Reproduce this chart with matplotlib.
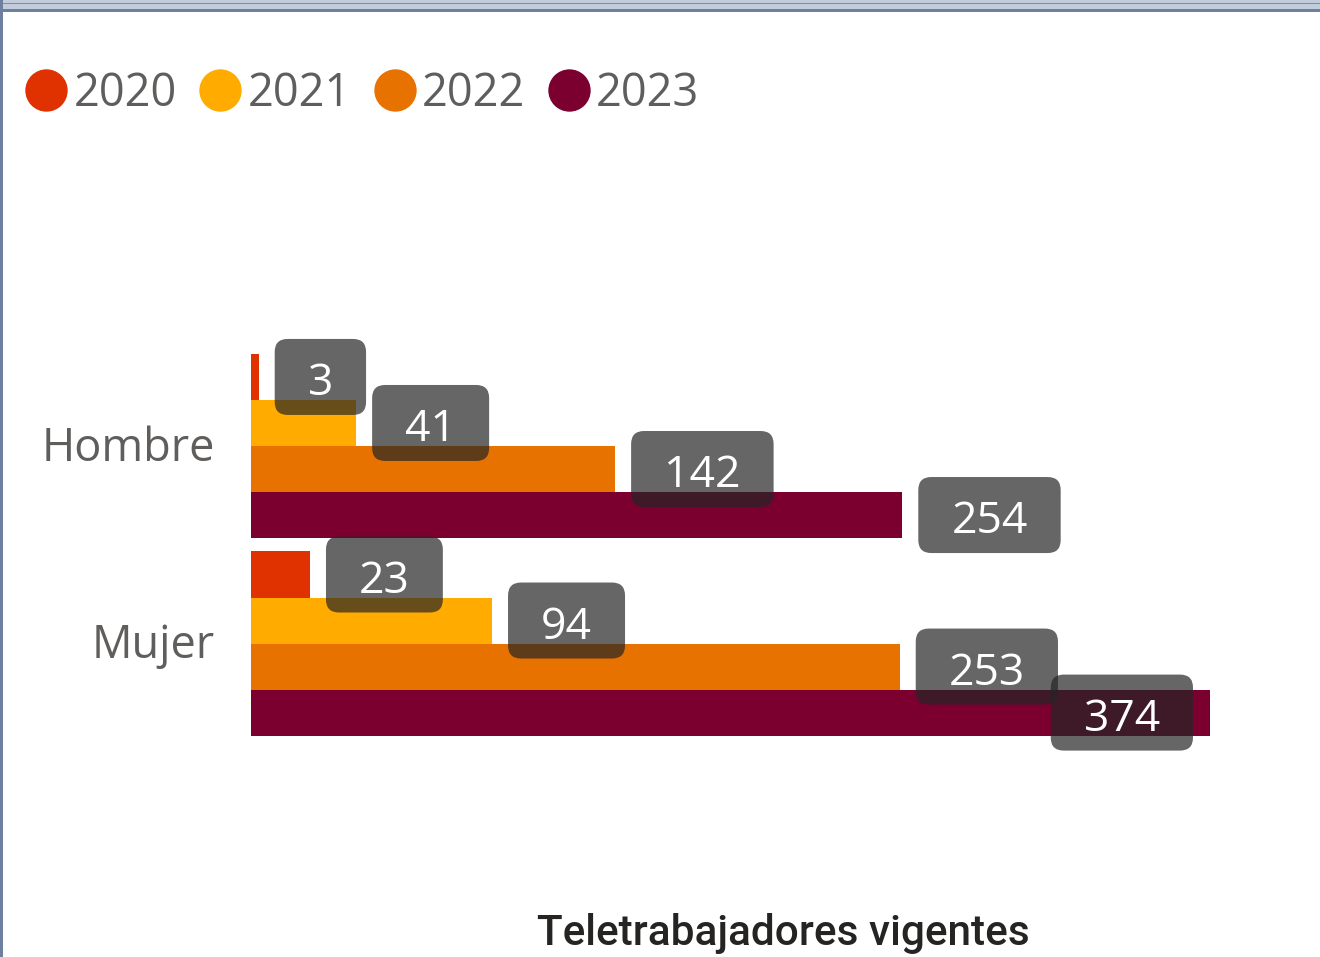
import matplotlib.pyplot as plt
from matplotlib.lines import Line2D
from matplotlib.patches import Rectangle, FancyBboxPatch
from matplotlib.transforms import IdentityTransform

# data
categories = ["Hombre", "Mujer"]
years = ["2020", "2021", "2022", "2023"]
values = {
    "2020": [3, 23],
    "2021": [41, 94],
    "2022": [142, 253],
    "2023": [254, 374],
}
colors = ["#E03100", "#FFAB00", "#E87200", "#7B0030"]
title = "Teletrabajadores vigentes"

W, H = 1320, 957
fig = plt.figure(figsize=(W / 100, H / 100), dpi=100)
fig.patch.set_facecolor("white")

# axes placed in pixel terms: x 251..1210 for 0..374
top_px, bot_px = 300, 800
ax = fig.add_axes([251 / W, 1 - bot_px / H, 959 / W, (bot_px - top_px) / H])
ax.set_xlim(0, 374)
ax.set_ylim(1.792, -0.739)
ax.axis("off")

bar_h = 0.233
padx = 33
vmax = max(max(v) for v in values.values())
label_texts = []
for i, yr in enumerate(years):
    ys = [k + (i - 1.5) * bar_h for k in range(len(categories))]
    ax.barh(ys, values[yr], height=bar_h, color=colors[i], zorder=2)
    for y, v in zip(ys, values[yr]):
        if v == vmax:
            t = ax.annotate(str(v), xy=(v, y), xytext=(-(17 + padx) * 0.72, -5),
                            textcoords="offset points", ha="right", va="center",
                            fontsize=32, color="white", family="Open Sans", zorder=6)
        else:
            t = ax.annotate(str(v), xy=(v, y), xytext=((16 + padx) * 0.72, -5),
                            textcoords="offset points", ha="left", va="center",
                            fontsize=32, color="white", family="Open Sans", zorder=6)
        label_texts.append((t, y))

# category labels
for k, c in enumerate(categories):
    ax.annotate(c, xy=(0, k), xytext=(-36 * 0.72, -2), textcoords="offset points",
                ha="right", va="center", fontsize=32.5, color="#605E5C",
                family="Open Sans")

# legend
handles = [Line2D([], [], marker="o", linestyle="", markersize=29.5,
                  markerfacecolor=c, markeredgecolor=c) for c in colors]
leg = fig.legend(handles, years, loc="center left", ncol=4,
                 bbox_to_anchor=(26 / W, 1 - 94 / H), frameon=False,
                 handlelength=0.9, handletextpad=0.15,
                 columnspacing=0.52, borderpad=0, borderaxespad=0,
                 prop={"family": "Open Sans", "size": 32.5})
for txt in leg.get_texts():
    txt.set_color("#605E5C")

# title at bottom
fig.text(783 / W, 1 - 945 / H, title, ha="center", va="baseline",
         fontsize=30.5, color="#252423", fontweight="medium", family="Roboto")

# rounded label boxes behind text
fig.canvas.draw()
r = fig.canvas.get_renderer()
for t, y in label_texts:
    bb = t.get_window_extent(r)
    yc = ax.transData.transform((0, y))[1]
    box = FancyBboxPatch((bb.x0 - padx, yc - 38), bb.width + 2 * padx, 76,
                         boxstyle="round,pad=0,rounding_size=13",
                         transform=IdentityTransform(), facecolor="#252525",
                         edgecolor="none", alpha=0.7, zorder=4, clip_on=False)
    ax.add_artist(box)

# frame borders
fig.add_artist(Rectangle((0, 1 - 12 / H), 1, 12 / H, transform=fig.transFigure,
                         facecolor="#C3CCDA", edgecolor="none"))
fig.add_artist(Rectangle((0, 1 - 4 / H), 1, 1 / H, transform=fig.transFigure,
                         facecolor="#7D8DA6", edgecolor="none"))
fig.add_artist(Rectangle((0, 1 - 12 / H), 1, 3 / H, transform=fig.transFigure,
                         facecolor="#6E809D", edgecolor="none"))
fig.add_artist(Rectangle((0, 0), 3 / W, 1, transform=fig.transFigure,
                         facecolor="#6E809D", edgecolor="none"))

fig.savefig("out.png", dpi=100)
